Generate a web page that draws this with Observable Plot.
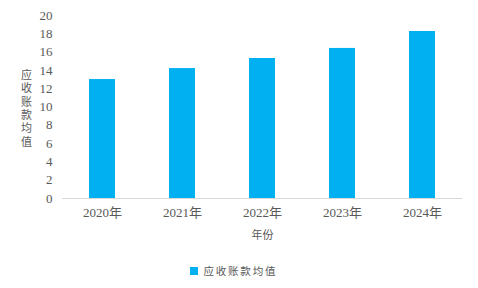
<!DOCTYPE html>
<html>
<head>
<meta charset="utf-8">
<script src="https://cdn.jsdelivr.net/npm/d3@7"></script>
<script src="https://cdn.jsdelivr.net/npm/@observablehq/plot@0.6"></script>
<style>
  html, body { margin: 0; padding: 0; background: #fff; }
  #wrap { position: relative; width: 478px; height: 288px; overflow: hidden; }
  #legend { position: absolute; left: 0; top: 254px; width: 478px; display: flex; justify-content: center; }
</style>
</head>
<body>
<div id="wrap"></div>
<script>
const years = ["2020年", "2021年", "2022年", "2023年", "2024年"];
const values = [13.0, 14.2, 15.3, 16.4, 18.25];
const yTicks = [0, 2, 4, 6, 8, 10, 12, 14, 16, 18, 20];
const seriesName = "应收账款均值";
const yTitle = "应收账款均值";
const xTitle = "年份";
const barColor = "#00b0f0";
const textColor = "#595959";
const serifFont = "'Liberation Serif', 'Noto Sans CJK SC', serif";
const cjkFont = "'Noto Sans CJK SC', sans-serif";

const data = years.map((y, i) => ({year: y, value: values[i]}));

const chart = Plot.plot({
  width: 478,
  height: 254,
  marginLeft: 62,
  marginRight: 16,
  marginTop: 15,
  marginBottom: 56,
  style: {fontFamily: serifFont, fontSize: "13px", color: textColor, background: "#fff"},
  x: {domain: years, paddingInner: 0.675, paddingOuter: 0.3375, label: null},
  y: {domain: [0, 20], label: null},
  marks: [
    Plot.barY(data, {x: "year", y: "value", fill: barColor}),
    Plot.ruleY([0], {stroke: "#d9d9d9", strokeWidth: 1}),
    Plot.axisY({ticks: yTicks, tickSize: 0, tickPadding: 10, label: null, fontSize: 13, fontFamily: serifFont, fill: textColor}),
    Plot.axisX({tickSize: 0, tickPadding: 9, label: null, fontSize: 13, fontFamily: serifFont, fill: textColor}),
    Plot.text([yTitle], {
      text: d => Array.from(d).join("\n"),
      frameAnchor: "left", dx: -36, dy: 1, textAnchor: "middle", lineAnchor: "middle",
      lineHeight: 1.22, fontSize: 11, fontFamily: cjkFont, fill: textColor,
      ariaLabel: "y-title"
    }),
    Plot.text([xTitle], {
      text: d => d,
      frameAnchor: "bottom", dy: 37, lineAnchor: "middle", textAnchor: "middle",
      fontSize: 11, fontFamily: cjkFont, fill: textColor,
      ariaLabel: "x-title"
    })
  ]
});

d3.select(chart).selectAll('g[aria-label="x-title"] text').attr("letter-spacing", "4.5px").attr("dx", "2");

const legend = Plot.legend({
  color: {domain: [seriesName], range: [barColor]},
  swatchSize: 8,
  style: {fontFamily: cjkFont, fontSize: "10.5px", letterSpacing: "1.8px", color: textColor, marginLeft: "0px"}
});
const legendBox = document.createElement("div");
legendBox.id = "legend";
legendBox.appendChild(legend);

const wrap = document.getElementById("wrap");
wrap.appendChild(chart);
wrap.appendChild(legendBox);
</script>
</body>
</html>
